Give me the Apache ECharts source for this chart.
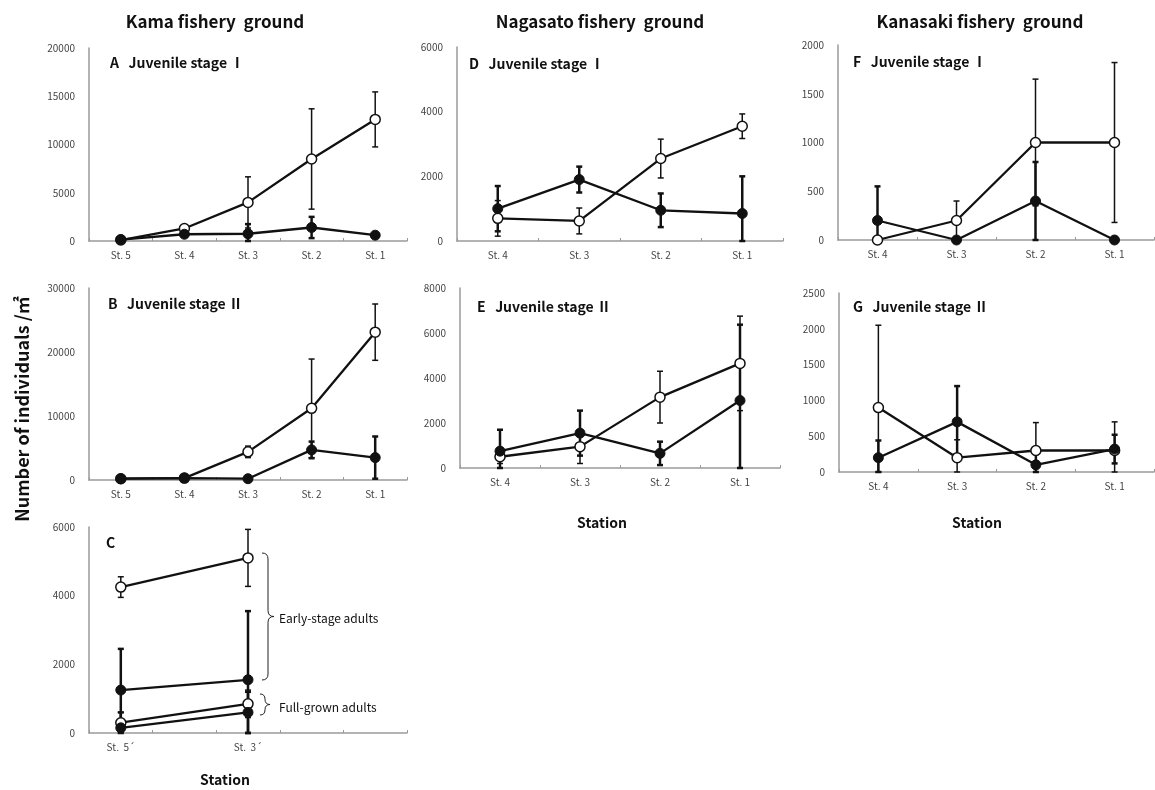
<!DOCTYPE html>
<html><head><meta charset="utf-8">
<script src="https://cdn.jsdelivr.net/npm/echarts@6/dist/echarts.min.js"></script>
<style>html,body{margin:0;padding:0;background:#fff}#c{width:1155px;height:790px}</style>
</head><body><div id="c"></div>
<script>
// ---- categories ----
const stationsKama = ['St. 5', 'St. 4', 'St. 3', 'St. 2', 'St. 1'];
const stationsC = ['St.  5´', '', 'St.  3´', '', ''];
const stations4 = ['St. 4', 'St. 3', 'St. 2', 'St. 1'];

// ---- Panel A (Kama, Juvenile stage I) ----
const A_open = [100, 1300, 4000, 8500, 12600];
const A_openSD = [0, 200, 2650, 5200, 2850];
const A_filled = [150, 700, 750, 1400, 600];
const A_filledSD = [0, 150, 1000, 1100, 100];
// ---- Panel B (Kama, Juvenile stage II) ----
const B_open = [200, 300, 4400, 11200, 23100];
const B_openSD = [0, 0, 900, 7700, 4400];
const B_filled = [200, 300, 200, 4700, 3500];
const B_filledSD = [0, 0, 0, 1300, 3300];
// ---- Panel C (Kama, adults) ----
const C_earlyOpen = [4250, null, 5100, null, null];
const C_earlyOpenSD = [300, null, 830, null, null];
const C_earlyFilled = [1250, null, 1550, null, null];
const C_earlyFilledSD = [1200, null, 2000, null, null];
const C_fullOpen = [300, null, 850, null, null];
const C_fullOpenSD = [300, null, 400, null, null];
const C_fullFilled = [150, null, 600, null, null];
const C_fullFilledSD = [450, null, 600, null, null];
// ---- Panel D (Nagasato, Juvenile stage I) ----
const D_open = [700, 620, 2550, 3550];
const D_openSD = [550, 400, 600, 380];
const D_filled = [1000, 1900, 950, 850];
const D_filledSD = [700, 400, 520, 1150];
// ---- Panel E (Nagasato, Juvenile stage II) ----
const E_open = [500, 950, 3150, 4650];
const E_openSD = [300, 750, 1150, 2100];
const E_filled = [750, 1550, 650, 3000];
const E_filledSD = [950, 1000, 520, 3370];
// ---- Panel F (Kanasaki, Juvenile stage I) ----
const F_open = [0, 200, 1000, 1000];
const F_openSD = [0, 200, 650, 820];
const F_filled = [200, 0, 400, 0];
const F_filledSD = [350, 0, 400, 0];
// ---- Panel G (Kanasaki, Juvenile stage II) ----
const G_open = [900, 200, 300, 300];
const G_openSD = [1150, 250, 390, 400];
const G_filled = [200, 700, 100, 320];
const G_filledSD = [240, 500, 150, 200];

// ---- y-axis scales ----
const yMax = {A: 20000, B: 30000, C: 6000, D: 6000, E: 8000, F: 2000, G: 2500};
const yStep = {A: 5000, B: 10000, C: 2000, D: 2000, E: 2000, F: 500, G: 500};

const FONT = '"Noto Sans CJK JP", "Noto Sans", sans-serif';
const chart = echarts.init(document.getElementById('c'), null, {renderer: 'canvas'});

const panels = [
  {k: 'A', grid: {left: 89, top: 48, width: 318, height: 193}, cats: stationsKama,
   series: [[A_open, A_openSD, true], [A_filled, A_filledSD, false]]},
  {k: 'B', grid: {left: 89, top: 288, width: 318, height: 192}, cats: stationsKama,
   series: [[B_open, B_openSD, true], [B_filled, B_filledSD, false]]},
  {k: 'C', grid: {left: 89, top: 527, width: 318, height: 206}, cats: stationsC,
   series: [[C_earlyOpen, C_earlyOpenSD, true], [C_earlyFilled, C_earlyFilledSD, false],
            [C_fullOpen, C_fullOpenSD, true], [C_fullFilled, C_fullFilledSD, false]]},
  {k: 'D', grid: {left: 457, top: 47, width: 326, height: 194}, cats: stations4,
   series: [[D_open, D_openSD, true], [D_filled, D_filledSD, false]]},
  {k: 'E', grid: {left: 460, top: 288, width: 320, height: 180}, cats: stations4,
   series: [[E_open, E_openSD, true], [E_filled, E_filledSD, false]]},
  {k: 'F', grid: {left: 838, top: 45, width: 316, height: 195}, cats: stations4,
   series: [[F_open, F_openSD, true], [F_filled, F_filledSD, false]]},
  {k: 'G', grid: {left: 839, top: 293, width: 315, height: 179}, cats: stations4,
   series: [[G_open, G_openSD, true], [G_filled, G_filledSD, false]]}
];

const grids = [], xAxes = [], yAxes = [], series = [];
const axisLineStyle = {color: '#9a9a9a', width: 1.5};

function errRender(lw) {
  return function (params, api) {
    const x = api.value(0), lo = api.value(1), hi = api.value(2);
    const p1 = api.coord([x, lo]), p2 = api.coord([x, hi]);
    const w = 3;
    const st = {stroke: '#111', lineWidth: lw};
    return {type: 'group', children: [
      {type: 'line', shape: {x1: p1[0], y1: p1[1], x2: p2[0], y2: p2[1]}, style: st},
      {type: 'line', shape: {x1: p2[0] - w, y1: p2[1], x2: p2[0] + w, y2: p2[1]}, style: st},
      {type: 'line', shape: {x1: p1[0] - w, y1: p1[1], x2: p1[0] + w, y2: p1[1]}, style: st}
    ]};
  };
}

panels.forEach((p, i) => {
  grids.push(Object.assign({containLabel: false}, p.grid));
  xAxes.push({
    type: 'category', gridIndex: i, data: p.cats, boundaryGap: true,
    axisLine: {show: true, lineStyle: axisLineStyle},
    axisTick: {show: true, inside: true, length: 3, lineStyle: {color: '#999'}},
    axisLabel: {fontFamily: FONT, fontSize: 10, color: '#444', margin: 9, interval: 0},
    splitLine: {show: false}
  });
  yAxes.push({
    type: 'value', gridIndex: i, min: 0, max: yMax[p.k], interval: yStep[p.k],
    axisLine: {show: true, lineStyle: axisLineStyle},
    axisTick: {show: false},
    axisLabel: {fontFamily: FONT, fontSize: 10, color: '#444', margin: 14, formatter: v => String(v)},
    splitLine: {show: false}
  });
  p.series.forEach(([vals, sd, open]) => {
    const errData = [];
    vals.forEach((v, j) => {
      if (v !== null && sd[j]) errData.push([j, Math.max(0, v - sd[j]), v + sd[j]]);
    });
    series.push({
      type: 'custom', xAxisIndex: i, yAxisIndex: i, z: 1, silent: true,
      renderItem: errRender(open ? 1.5 : 2.5), data: errData,
      encode: {x: 0, y: [1, 2]}
    });
    series.push({
      type: 'line', xAxisIndex: i, yAxisIndex: i, z: 3, data: vals, connectNulls: true,
      symbol: 'circle', symbolSize: 10,
      lineStyle: {color: '#111', width: 2.3},
      itemStyle: {color: open ? '#fff' : '#111', borderColor: '#111', borderWidth: open ? 1.5 : 1},
      animation: false
    });
  });
});

const titles = [
  {text: 'Kama fishery  ground', left: 210, top: 8, textAlign: 'center'},
  {text: 'Nagasato fishery  ground', left: 595, top: 8, textAlign: 'center'},
  {text: 'Kanasaki fishery  ground', left: 975, top: 8, textAlign: 'center'}
].map(t => Object.assign(t, {textStyle: {fontFamily: FONT, fontSize: 17, fontWeight: 'bold', color: '#111'}}));

const panelLabels = [
  ['A   Juvenile stage Ⅰ', 110, 63], ['B   Juvenile stage Ⅱ', 108, 304], ['C', 106, 543],
  ['D   Juvenile stage Ⅰ', 469, 64], ['E   Juvenile stage Ⅱ', 477, 307],
  ['F   Juvenile stage Ⅰ', 853, 62], ['G   Juvenile stage Ⅱ', 853, 307]
];
const stationLabels = [[225, 780], [602, 523], [977, 523]];

const graphic = [];
panelLabels.forEach(([t, x, y]) => graphic.push({
  type: 'text', x: x, y: y, style: {text: t, font: 'bold 14px ' + FONT, fill: '#111', textVerticalAlign: 'middle'}
}));
stationLabels.forEach(([x, y]) => graphic.push({
  type: 'text', x: x, y: y, style: {text: 'Station', font: 'bold 14px ' + FONT, fill: '#111', textAlign: 'center', textVerticalAlign: 'middle'}
}));
graphic.push({
  type: 'text', x: 22, y: 409, rotation: Math.PI / 2,
  style: {text: 'Number of individuals /㎡', font: 'bold 18px ' + FONT, fill: '#111', textAlign: 'center', textVerticalAlign: 'middle'}
});
// braces in panel C
function brace(x, y1, y2, d) {
  const m = (y1 + y2) / 2, st = {stroke: '#222', lineWidth: 1, fill: null};
  const r = Math.min(6, (y2 - y1) / 4);
  return [
    {type: 'bezierCurve', shape: {x1: x - d, y1: y1, cpx1: x, cpy1: y1, x2: x, y2: y1 + r}, style: st},
    {type: 'line', shape: {x1: x, y1: y1 + r, x2: x, y2: m - r}, style: st},
    {type: 'bezierCurve', shape: {x1: x, y1: m - r, cpx1: x, cpy1: m, x2: x + d, y2: m}, style: st},
    {type: 'bezierCurve', shape: {x1: x + d, y1: m, cpx1: x, cpy1: m, x2: x, y2: m + r}, style: st},
    {type: 'line', shape: {x1: x, y1: m + r, x2: x, y2: y2 - r}, style: st},
    {type: 'bezierCurve', shape: {x1: x, y1: y2 - r, cpx1: x, cpy1: y2, x2: x - d, y2: y2}, style: st}
  ];
}
brace(268, 553, 680, 6).forEach(g => graphic.push(g));
brace(265, 694, 715, 5).forEach(g => graphic.push(g));
graphic.push({type: 'text', x: 279, y: 618, style: {text: 'Early-stage adults', font: '12px ' + FONT, fill: '#111', textVerticalAlign: 'middle'}});
graphic.push({type: 'text', x: 279, y: 707, style: {text: 'Full-grown adults', font: '12px ' + FONT, fill: '#111', textVerticalAlign: 'middle'}});

chart.setOption({
  animation: false,
  backgroundColor: '#fff',
  title: titles,
  grid: grids, xAxis: xAxes, yAxis: yAxes, series: series,
  graphic: graphic
});
</script></body></html>
